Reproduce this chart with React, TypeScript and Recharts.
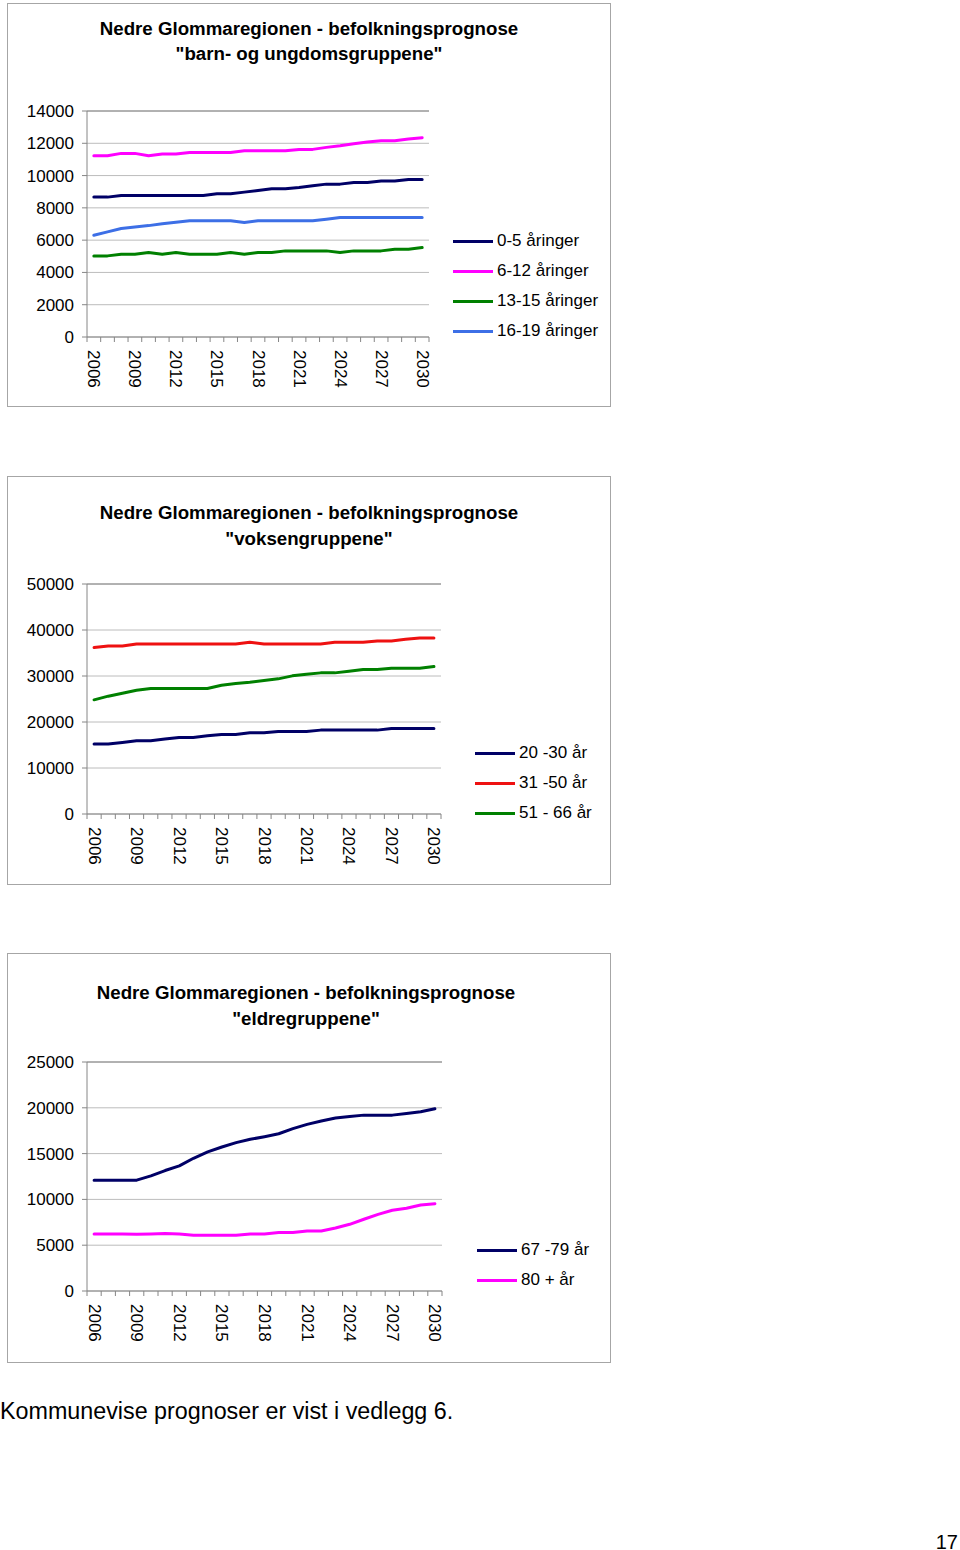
import React from "react";
import { LineChart, Line, XAxis, YAxis, CartesianGrid, ReferenceLine, Legend } from "recharts";

const years = [
  "2006", "2007", "2008", "2009", "2010", "2011", "2012", "2013", "2014", "2015",
  "2016", "2017", "2018", "2019", "2020", "2021", "2022", "2023", "2024", "2025",
  "2026", "2027", "2028", "2029", "2030",
];

// Chart 1 – barn- og ungdomsgruppene
const age0to5 = [8665, 8665, 8770, 8770, 8770, 8770, 8770, 8770, 8770, 8870, 8870, 8975, 9080, 9180, 9180, 9265, 9370, 9470, 9470, 9575, 9575, 9660, 9660, 9760, 9760];
const age6to12 = [11230, 11230, 11374, 11374, 11230, 11333, 11333, 11436, 11436, 11436, 11436, 11540, 11540, 11540, 11540, 11622, 11622, 11746, 11850, 11974, 12077, 12160, 12160, 12263, 12346];
const age13to15 = [5025, 5025, 5130, 5130, 5230, 5130, 5230, 5130, 5130, 5130, 5230, 5130, 5230, 5230, 5335, 5335, 5335, 5335, 5230, 5335, 5335, 5335, 5440, 5440, 5540];
const age16to19 = [6300, 6510, 6720, 6820, 6900, 7010, 7110, 7200, 7200, 7200, 7200, 7090, 7200, 7200, 7200, 7200, 7200, 7300, 7400, 7400, 7400, 7400, 7400, 7400, 7400];
const ticks1 = [0, 2000, 4000, 6000, 8000, 10000, 12000, 14000];

// Chart 2 – voksengruppene
const age20to30 = [15195, 15195, 15560, 15920, 15920, 16280, 16640, 16640, 17005, 17295, 17295, 17655, 17655, 17945, 17945, 17945, 18235, 18235, 18235, 18235, 18235, 18600, 18600, 18600, 18600];
const age31to50 = [36180, 36540, 36540, 36980, 36980, 36980, 36980, 36980, 36980, 36980, 36980, 37340, 36980, 36980, 36980, 36980, 36980, 37340, 37340, 37340, 37630, 37630, 37990, 38280, 38280];
const age51to66 = [24820, 25615, 26270, 26920, 27280, 27280, 27280, 27280, 27280, 28000, 28365, 28655, 29015, 29380, 30030, 30390, 30680, 30680, 31040, 31400, 31400, 31690, 31690, 31690, 32055];
const ticks2 = [0, 10000, 20000, 30000, 40000, 50000];

// Chart 3 – eldregruppene
const age67to79 = [12100, 12100, 12100, 12100, 12570, 13150, 13660, 14490, 15180, 15720, 16195, 16560, 16850, 17170, 17720, 18190, 18550, 18880, 19060, 19200, 19200, 19200, 19380, 19560, 19890];
const age80plus = [6230, 6230, 6230, 6200, 6230, 6270, 6230, 6090, 6090, 6090, 6090, 6230, 6230, 6380, 6380, 6560, 6560, 6880, 7280, 7830, 8370, 8810, 9030, 9380, 9530];
const ticks3 = [0, 5000, 10000, 15000, 20000, 25000];

const FONT = '"Liberation Sans", Arial, Helvetica, sans-serif';
const AXIS = "#868686";
const GRID = "#bcbcbc";
const NAVY = "#000066";
const MAGENTA = "#ff00ff";
const GREEN = "#008000";
const LIGHTBLUE = "#3d6fe6";
const RED = "#ee1111";
const FS = 17;

type Series = { key: string; name: string; color: string; values: number[] };

function buildData(series: Series[]) {
  return years.map((y, i) => {
    const row: any = { year: y };
    series.forEach((s) => {
      row[s.key] = s.values[i];
    });
    return row;
  });
}

function makeTick(bw: number, n: number) {
  return (props: any) => {
    const { x, y, payload, index } = props;
    const ty = y + 13;
    return (
      <g>
        <line x1={x - bw / 2} x2={x - bw / 2} y1={y} y2={y + 5} stroke={AXIS} />
        {index === n - 1 && <line x1={x + bw / 2} x2={x + bw / 2} y1={y} y2={y + 5} stroke={AXIS} />}
        {index % 3 === 0 && (
          <text
            x={x}
            y={ty}
            transform={`rotate(90 ${x} ${ty})`}
            textAnchor="start"
            dominantBaseline="central"
            fontSize={FS}
            fill="#000"
            fontFamily={FONT}
          >
            {payload.value}
          </text>
        )}
      </g>
    );
  };
}

type PanelProps = {
  top: number;
  outerHeight: number;
  titleLines: string[];
  titleTop: number;
  titleLH: number;
  titleShift: number;
  series: Series[];
  yTicks: number[];
  plot: { left: number; right: number; top: number; bottom: number };
  legend: { left: number; top: number; lineW: number };
};

function Panel(p: PanelProps) {
  const W = 602;
  const H = p.outerHeight - 2;
  const plotW = p.plot.right - p.plot.left;
  const bw = plotW / years.length;
  const yAxisW = 70;
  const xAxisH = 50;
  const data = buildData(p.series);
  const yMax = p.yTicks[p.yTicks.length - 1];
  const legendContent = () => (
    <div style={{ fontFamily: FONT, fontSize: FS, color: "#000" }}>
      {p.series.map((s) => (
        <div key={s.key} style={{ display: "flex", alignItems: "center", height: 30, whiteSpace: "nowrap" }}>
          <div style={{ width: p.legend.lineW, height: 3, background: s.color, marginRight: 4 }} />
          <span>{s.name}</span>
        </div>
      ))}
    </div>
  );
  return (
    <div
      style={{
        position: "absolute",
        left: 7,
        top: p.top,
        width: 604,
        height: p.outerHeight,
        boxSizing: "border-box",
        border: "1px solid #a6a6a6",
        background: "#fff",
      }}
    >
      <div
        style={{
          position: "absolute",
          left: p.titleShift,
          top: p.titleTop,
          width: W,
          textAlign: "center",
          fontFamily: FONT,
          fontWeight: "bold",
          fontSize: 18.7,
          lineHeight: `${p.titleLH}px`,
          color: "#000",
          whiteSpace: "nowrap",
        }}
      >
        {p.titleLines.map((t, i) => (
          <div key={i}>{t}</div>
        ))}
      </div>
      <div style={{ position: "absolute", left: 0, top: 0 }}>
        <LineChart
          width={W}
          height={H}
          data={data}
          margin={{
            top: p.plot.top,
            right: W - p.plot.right,
            bottom: H - p.plot.bottom - xAxisH,
            left: p.plot.left - yAxisW,
          }}
        >
          <CartesianGrid vertical={false} stroke={GRID} />
          <XAxis
            dataKey="year"
            interval={0}
            tickLine={false}
            tickSize={0}
            tickMargin={0}
            height={xAxisH}
            padding={{ left: bw / 2, right: bw / 2 }}
            axisLine={{ stroke: AXIS }}
            tick={makeTick(bw, years.length)}
          />
          <YAxis
            domain={[0, yMax]}
            ticks={p.yTicks}
            interval={0}
            width={yAxisW}
            tickSize={5}
            tickMargin={8}
            axisLine={{ stroke: AXIS }}
            tickLine={{ stroke: AXIS }}
            tick={{ fontSize: FS, fill: "#000", fontFamily: FONT }}
          />
          <YAxis
            yAxisId="frame"
            orientation="right"
            width={0}
            tick={false}
            tickLine={false}
            axisLine={{ stroke: AXIS }}
          />
          <ReferenceLine y={yMax} stroke={AXIS} />
          {p.series.map((s) => (
            <Line
              key={s.key}
              dataKey={s.key}
              name={s.name}
              type="linear"
              stroke={s.color}
              strokeWidth={3}
              dot={false}
              activeDot={false}
              isAnimationActive={false}
              strokeLinejoin="round"
              strokeLinecap="round"
            />
          ))}
          <Legend
            layout="vertical"
            align="center"
            verticalAlign="middle"
            wrapperStyle={{ left: p.legend.left, top: p.legend.top, width: 170 }}
            content={legendContent}
          />
        </LineChart>
      </div>
    </div>
  );
}

const series1: Series[] = [
  { key: "a0", name: "0-5 åringer", color: NAVY, values: age0to5 },
  { key: "a6", name: "6-12 åringer", color: MAGENTA, values: age6to12 },
  { key: "a13", name: "13-15 åringer", color: GREEN, values: age13to15 },
  { key: "a16", name: "16-19 åringer", color: LIGHTBLUE, values: age16to19 },
];

const series2: Series[] = [
  { key: "a20", name: "20 -30 år", color: NAVY, values: age20to30 },
  { key: "a31", name: "31 -50 år", color: RED, values: age31to50 },
  { key: "a51", name: "51 - 66 år", color: GREEN, values: age51to66 },
];

const series3: Series[] = [
  { key: "a67", name: "67 -79 år", color: NAVY, values: age67to79 },
  { key: "a80", name: "80 + år", color: MAGENTA, values: age80plus },
];

export default function App() {
  return (
    <div style={{ position: "absolute", left: 0, top: 0, width: 960, height: 1550, background: "#fff" }}>
      <Panel
        top={3}
        outerHeight={404}
        titleLines={["Nedre Glommaregionen - befolkningsprognose", '"barn- og ungdomsgruppene"']}
        titleTop={12}
        titleLH={25}
        titleShift={0}
        series={series1}
        yTicks={ticks1}
        plot={{ left: 79, right: 421, top: 107, bottom: 333 }}
        legend={{ left: 445, top: 222, lineW: 40 }}
      />
      <Panel
        top={476}
        outerHeight={409}
        titleLines={["Nedre Glommaregionen - befolkningsprognose", '"voksengruppene"']}
        titleTop={23}
        titleLH={26}
        titleShift={0}
        series={series2}
        yTicks={ticks2}
        plot={{ left: 79, right: 433, top: 107, bottom: 337 }}
        legend={{ left: 467, top: 261, lineW: 40 }}
      />
      <Panel
        top={953}
        outerHeight={410}
        titleLines={["Nedre Glommaregionen - befolkningsprognose", '"eldregruppene"']}
        titleTop={26}
        titleLH={26}
        titleShift={-3}
        series={series3}
        yTicks={ticks3}
        plot={{ left: 79, right: 434, top: 108, bottom: 337 }}
        legend={{ left: 469, top: 281, lineW: 40 }}
      />
      <div
        style={{
          position: "absolute",
          left: 0,
          top: 1398,
          fontFamily: FONT,
          fontSize: 23.3,
          lineHeight: "26px",
          color: "#000",
          whiteSpace: "nowrap",
        }}
      >
        Kommunevise prognoser er vist i vedlegg 6.
      </div>
      <div
        style={{
          position: "absolute",
          right: 2,
          top: 1530,
          fontFamily: FONT,
          fontSize: 20,
          lineHeight: "24px",
          color: "#000",
        }}
      >
        17
      </div>
    </div>
  );
}
